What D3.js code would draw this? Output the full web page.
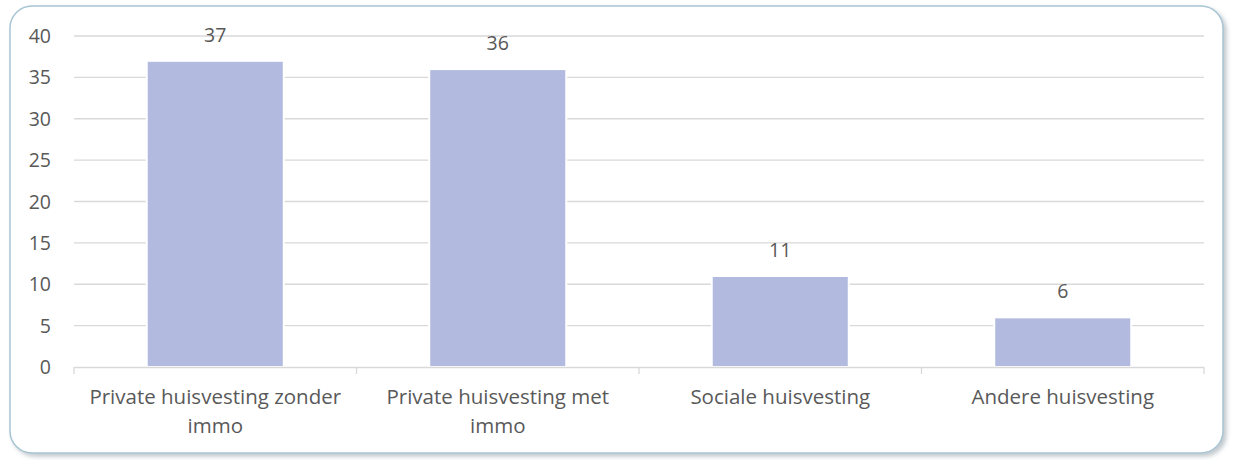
<!DOCTYPE html>
<html>
<head>
<meta charset="utf-8">
<script src="https://cdn.jsdelivr.net/npm/d3@7"></script>
<style>
  body { margin: 0; background: #fff; }
  svg text { font-family: "Open Sans", Lato, sans-serif; fill: #595959; }
</style>
</head>
<body>
<svg id="chart" width="1235" height="460"></svg>
<script>
// chart data
var categories = [["Private huisvesting zonder", "immo"], ["Private huisvesting met", "immo"], ["Sociale huisvesting"], ["Andere huisvesting"]];
var values = [37, 36, 11, 6];
var yTicks = [0, 5, 10, 15, 20, 25, 30, 35, 40];

var svg = d3.select("#chart");

// frame with soft shadow
var defs = svg.append("defs");
var f = defs.append("filter").attr("id", "shadow").attr("x", "-5%").attr("y", "-5%").attr("width", "110%").attr("height", "115%");
f.append("feDropShadow").attr("dx", 3).attr("dy", 3).attr("stdDeviation", 2).attr("flood-color", "#7a8a94").attr("flood-opacity", 0.45);

svg.append("rect")
	.attr("x", 10).attr("y", 6)
	.attr("width", 1213).attr("height", 447)
	.attr("rx", 22).attr("ry", 22)
	.style("fill", "#fff")
	.style("stroke", "#a8c5d4")
	.style("stroke-width", 1.5)
	.attr("filter", "url(#shadow)");

var plotLeft = 74, plotRight = 1204, plotTop = 36, plotBottom = 367;

var x = d3.scaleBand()
	.domain(d3.range(categories.length))
	.range([plotLeft, plotRight])
	.paddingInner(0.515)
	.paddingOuter(0.2575);

var y = d3.scaleLinear().domain([0, 40]).range([plotBottom, plotTop]);

// gridlines
svg.append("g").selectAll("line")
	.data(yTicks.filter(function(d) { return d > 0; }))
	.enter().append("line")
	.attr("x1", plotLeft).attr("x2", plotRight)
	.attr("y1", function(d) { return y(d); })
	.attr("y2", function(d) { return y(d); })
	.style("stroke", "#d9d9d9")
	.style("stroke-width", 1.3);

// y labels
svg.append("g").selectAll("text")
	.data(yTicks)
	.enter().append("text")
	.attr("x", 51)
	.attr("y", function(d) { return y(d); })
	.attr("dy", "0.36em")
	.attr("text-anchor", "end")
	.style("font-size", "19.5px")
	.text(function(d) { return d; });

// bars
svg.append("g").selectAll("rect")
	.data(values)
	.enter().append("rect")
	.attr("x", function(d, i) { return x(i); })
	.attr("y", function(d) { return y(d); })
	.attr("width", x.bandwidth())
	.attr("height", function(d) { return y(0) - y(d); })
	.style("fill", "#b2badf")
	.style("stroke", "#fff")
	.style("stroke-width", 2);

// value labels
svg.append("g").selectAll("text")
	.data(values)
	.enter().append("text")
	.attr("x", function(d, i) { return x(i) + x.bandwidth() / 2; })
	.attr("y", function(d) { return y(d) - 26; })
	.attr("dy", "0.36em")
	.attr("text-anchor", "middle")
	.style("font-size", "19.5px")
	.text(function(d) { return d; });

// x axis line + ticks
var step = (plotRight - plotLeft) / categories.length;
svg.append("line")
	.attr("x1", plotLeft).attr("x2", plotRight)
	.attr("y1", plotBottom + 0.5).attr("y2", plotBottom + 0.5)
	.style("stroke", "#d9d9d9").style("stroke-width", 1.3);
svg.append("g").selectAll("line")
	.data(d3.range(categories.length + 1))
	.enter().append("line")
	.attr("x1", function(d) { return plotLeft + d * step; })
	.attr("x2", function(d) { return plotLeft + d * step; })
	.attr("y1", plotBottom).attr("y2", plotBottom + 7)
	.style("stroke", "#d9d9d9").style("stroke-width", 1.3);

// category labels
var cat = svg.append("g").selectAll("text")
	.data(categories)
	.enter().append("text")
	.attr("text-anchor", "middle")
	.style("font-size", "20.5px")
	.attr("transform", function(d, i) { return "translate(" + (x(i) + x.bandwidth() / 2) + ",404)"; });
cat.selectAll("tspan")
	.data(function(d) { return d; })
	.enter().append("tspan")
	.attr("x", 0)
	.attr("dy", function(d, i) { return i === 0 ? 0 : 29; })
	.text(function(d) { return d; });
</script>
</body>
</html>
